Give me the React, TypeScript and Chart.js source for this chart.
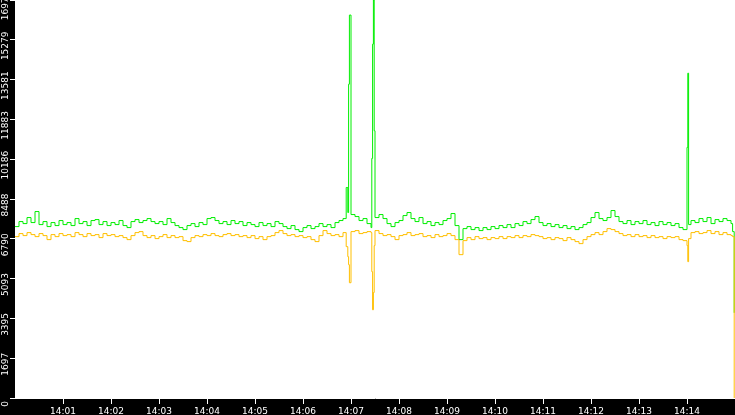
import { useEffect, useRef } from 'react';
import { Chart, registerables } from 'chart.js';

Chart.register(...registerables);

// seconds after 14:00:00
const sampleTimes = [
  0, 5, 10, 15, 20, 25, 30, 35, 40, 45,
  50, 55, 60, 65, 70, 75, 80, 85, 90, 95,
  100, 105, 110, 115, 120, 125, 130, 135, 140, 145,
  150, 155, 160, 165, 170, 175, 180, 185, 190, 195,
  200, 205, 210, 215, 220, 225, 230, 235, 240, 245,
  250, 255, 260, 265, 270, 275, 280, 285, 290, 295,
  300, 305, 310, 315, 320, 325, 330, 335, 340, 345,
  350, 355, 360, 365, 370, 375, 380, 385, 390, 395,
  400, 405, 410,
  414, 416, 417, 418,
  420, 425, 430, 435, 440, 445,
  446, 447, 448, 449,
  450, 455, 460, 465, 470, 475, 480, 485, 490, 495,
  500, 505, 510, 515, 520, 525, 530, 535, 540, 545,
  550, 555, 560, 565, 570, 575, 580, 585, 590, 595,
  600, 605, 610, 615, 620, 625, 630, 635, 640, 645,
  650, 655, 660, 665, 670, 675, 680, 685, 690, 695,
  700, 705, 710, 715, 720, 725, 730, 735, 740, 745,
  750, 755, 760, 765, 770, 775, 780, 785, 790, 795,
  800, 805, 810, 815, 820, 825, 830, 835,
  840, 841, 842,
  845, 850, 855, 860, 865, 870, 875, 880, 885, 890, 895,
  897, 899,
];

const greenValues = [
  7312, 7526, 7440, 7697, 7483, 7953, 7397, 7526, 7312, 7483,
  7355, 7569, 7397, 7483, 7355, 7654, 7440, 7526, 7355, 7569,
  7611, 7397, 7526, 7355, 7483, 7397, 7569, 7355, 7269, 7526,
  7611, 7483, 7569, 7654, 7526, 7440, 7526, 7397, 7654, 7483,
  7355, 7269, 7184, 7355, 7440, 7312, 7483, 7397, 7654, 7697,
  7569, 7440, 7526, 7397, 7569, 7440, 7526, 7355, 7483, 7397,
  7312, 7483, 7355, 7440, 7312, 7526, 7440, 7312, 7226, 7355,
  7184, 7098, 7269, 7355, 7226, 7312, 7440, 7312, 7397, 7269,
  7483, 7569, 7654,
  8980, 7911, 13384, 16334,
  7825, 7740, 7569, 7654, 7440, 7269,
  10220, 15094, 16977, 11400,
  7697, 7825, 7654, 7440, 7312, 7483, 7569, 7782, 7911, 7654,
  7526, 7697, 7440, 7526, 7355, 7483, 7397, 7569, 7654, 7868,
  7355, 6756, 7226, 7312, 7184, 7269, 7141, 7269, 7184, 7312,
  7226, 7355, 7269, 7397, 7269, 7440, 7355, 7526, 7440, 7611,
  7740, 7483, 7355, 7440, 7312, 7397, 7269, 7355, 7226, 7312,
  7184, 7269, 7397, 7483, 7697, 7911, 7654, 7569, 7697, 7996,
  7740, 7526, 7440, 7569, 7397, 7526, 7440, 7569, 7397, 7483,
  7355, 7526, 7397, 7483, 7355, 7440, 7269, 7184,
  10690, 13854, 7397,
  7569, 7483, 7654, 7526, 7697, 7440, 7611, 7526, 7654, 7569, 7440,
  7098, 3634,
];

const orangeValues = [
  6884, 7013, 6927, 7055, 6970, 6884, 7013, 6927, 6756, 6970,
  6884, 7013, 6927, 6970, 6884, 7055, 6970, 6884, 7013, 6927,
  6970, 6842, 7013, 6927, 6970, 6884, 6927, 6842, 6756, 6927,
  7055, 7098, 6927, 6842, 6927, 6799, 6884, 6970, 6842, 6927,
  6842, 6884, 6713, 6671, 6842, 6927, 6884, 6970, 6927, 7013,
  6927, 6884, 6970, 7013, 6927, 6970, 6884, 6927, 6842, 6927,
  6799, 6884, 6756, 6884, 6927, 7055, 7141, 7013, 6927, 6970,
  6884, 6927, 6842, 6884, 6756, 6671, 6927, 7141, 7013, 6927,
  6970, 6884, 7055,
  6457, 6029, 5687, 4917,
  7098, 7141, 7013, 7055, 7098, 7055,
  5388, 3763, 4500, 6500,
  7141, 7013, 6927, 6970, 6884, 6756, 6927, 6970, 7055, 6927,
  6970, 7013, 6884, 6927, 6842, 6970, 6884, 6927, 7013, 6927,
  6756, 6115, 6713, 6842, 6756, 6884, 6799, 6842, 6756, 6842,
  6799, 6884, 6799, 6884, 6842, 6927, 6842, 6927, 6884, 6970,
  6927, 6884, 6799, 6842, 6756, 6842, 6799, 6713, 6842, 6756,
  6671, 6585, 6756, 6884, 6970, 7055, 6970, 7098, 7226, 7184,
  7098, 7013, 6927, 6970, 6884, 6970, 6884, 6927, 6842, 6927,
  6842, 6884, 6799, 6884, 6842, 6884, 6756, 6713,
  6500, 5815, 6799,
  7055, 7098, 7013, 7055, 7141, 7013, 7098, 6970, 7055, 6970, 6927,
  6884, 0,
];

const xTickValues = [60, 120, 180, 240, 300, 360, 420, 480, 540, 600, 660, 720, 780, 840];
const xTickLabels = [
  '14:01', '14:02', '14:03', '14:04', '14:05', '14:06', '14:07',
  '14:08', '14:09', '14:10', '14:11', '14:12', '14:13', '14:14',
];
const yTickValues = [0, 1697.7, 3395.4, 5093.1, 6790.8, 8488.5, 10186.2, 11883.9, 13581.6, 15279.3, 16977];
const yTickLabels = ['0', '1697', '3395', '5093', '6790', '8488', '10186', '11883', '13581', '15279', '16977'];

const tickFont = { family: '"DejaVu Sans", sans-serif', size: 9 };

// black frame around a white plot area
const frameBackground = {
  id: 'frameBackground',
  beforeDraw(chart: Chart) {
    const { ctx, chartArea } = chart;
    ctx.save();
    ctx.fillStyle = '#000';
    ctx.fillRect(0, 0, chart.width, chart.height);
    ctx.fillStyle = '#fff';
    ctx.fillRect(chartArea.left, chartArea.top, chartArea.right - chartArea.left, chartArea.bottom - chartArea.top);
    ctx.restore();
  },
};

export default function App() {
  const canvasRef = useRef<HTMLCanvasElement>(null);
  const chartRef = useRef<Chart | null>(null);

  useEffect(() => {
    document.body.style.margin = '0';
    if (!canvasRef.current) return;
    if (chartRef.current) chartRef.current.destroy();

    chartRef.current = new Chart(canvasRef.current, {
      type: 'line',
      data: {
        datasets: [
          {
            label: 'orange',
            data: sampleTimes.map((t, i) => ({ x: t, y: orangeValues[i] })),
            borderColor: '#ffbf00',
            borderWidth: 1,
            pointRadius: 0,
            stepped: true,
          },
          {
            label: 'green',
            data: sampleTimes.map((t, i) => ({ x: t, y: greenValues[i] })),
            borderColor: '#00ee00',
            borderWidth: 1,
            pointRadius: 0,
            stepped: true,
          },
        ],
      },
      options: {
        animation: false,
        responsive: false,
        devicePixelRatio: 1,
        layout: { padding: 0 },
        plugins: {
          legend: { display: false },
          tooltip: { enabled: false },
        },
        scales: {
          x: {
            type: 'linear',
            min: 0,
            max: 900,
            afterBuildTicks: (scale: any) => {
              scale.ticks = xTickValues.map((v) => ({ value: v }));
            },
            afterFit: (scale: any) => {
              scale.height = 17;
            },
            grid: { drawOnChartArea: false, color: '#fff', tickLength: 6 },
            border: { color: '#fff', width: 1 },
            ticks: {
              color: '#fff',
              font: tickFont,
              padding: 2,
              autoSkip: false,
              maxRotation: 0,
              callback: (_v: any, i: number) => xTickLabels[i],
            },
          },
          y: {
            type: 'linear',
            min: 0,
            max: 16977,
            afterBuildTicks: (scale: any) => {
              scale.ticks = yTickValues.map((v) => ({ value: v }));
            },
            afterFit: (scale: any) => {
              scale.width = 15;
            },
            grid: { drawOnChartArea: false, color: '#fff', tickLength: 5 },
            border: { color: '#fff', width: 1 },
            ticks: {
              color: '#fff',
              font: tickFont,
              minRotation: 90,
              maxRotation: 90,
              crossAlign: 'center',
              padding: -9.5,
              labelOffset: 6,
              autoSkip: false,
              callback: (_v: any, i: number) => yTickLabels[i],
            },
          },
        },
      },
      plugins: [frameBackground],
    });

    return () => {
      if (chartRef.current) {
        chartRef.current.destroy();
        chartRef.current = null;
      }
    };
  }, []);

  return (
    <div style={{ width: 735, height: 415 }}>
      <canvas ref={canvasRef} width={735} height={415}></canvas>
    </div>
  );
}
